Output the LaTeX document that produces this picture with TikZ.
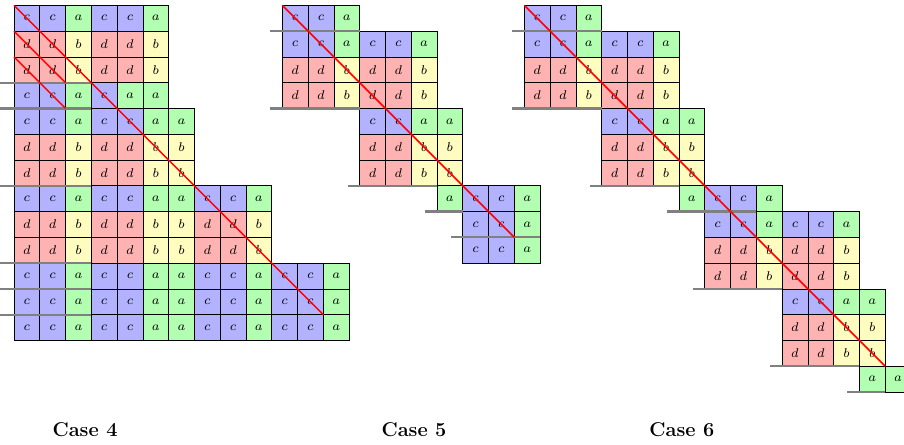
\documentclass[tikz,border=0pt]{standalone}
\usepackage{xcolor}
\colorlet{cola}{green!30}
\colorlet{colb}{yellow!25}
\colorlet{colc}{blue!30}
\colorlet{cold}{red!30}
\tikzset{
  cellbox/.style={draw=black, line width=0.4pt, minimum size=0.5cm, inner sep=0pt, outer sep=0pt, font=\scriptsize},
  sepline/.style={draw=gray, line width=1.2pt},
  diagline/.style={draw=red, line width=0.8pt},
  caption/.style={font=\fontsize{11}{13}\selectfont\bfseries, inner sep=0pt}
}
\newcommand\cellrow[4]{%
  \foreach \L [count=\i from 0] in {#4}{%
    \pgfmathtruncatemacro\cc{#2+\i}%
    \node[cellbox, fill=col\L] (#1-#3-\cc) at (\cc+0.5,#3+0.5) {$\L$};
  }}
\begin{document}
\begin{tikzpicture}[x=0.5cm,y=-0.5cm]
\useasboundingbox (0,0) rectangle (35.066,17.223);
% ---------------- Case 4
\begin{scope}[shift={(0.543,0.206)}]
  \cellrow{A}{0}{0}{c,c,a,c,c,a}
  \cellrow{A}{0}{1}{d,d,b,d,d,b}
  \cellrow{A}{0}{2}{d,d,b,d,d,b}
  \cellrow{A}{0}{3}{c,c,a,c,a,a}
  \cellrow{A}{0}{4}{c,c,a,c,c,a,a}
  \cellrow{A}{0}{5}{d,d,b,d,d,b,b}
  \cellrow{A}{0}{6}{d,d,b,d,d,b,b}
  \cellrow{A}{0}{7}{c,c,a,c,c,a,a,c,c,a}
  \cellrow{A}{0}{8}{d,d,b,d,d,b,b,d,d,b}
  \cellrow{A}{0}{9}{d,d,b,d,d,b,b,d,d,b}
  \cellrow{A}{0}{10}{c,c,a,c,c,a,a,c,c,a,c,c,a}
  \cellrow{A}{0}{11}{c,c,a,c,c,a,a,c,c,a,c,c,a}
  \cellrow{A}{0}{12}{c,c,a,c,c,a,a,c,c,a,c,c,a}
  \foreach \r in {3,4,7,10,11,12}{\draw[sepline] (-0.6,\r) -- (3,\r);}
  \draw[diagline] (A-0-0.north west) -- (A-11-11.south east);
  \draw[diagline] (A-1-0.north west) -- (A-2-1.south east);
  \draw[diagline] (A-2-0.north west) -- (A-3-1.south east);
\end{scope}
% ---------------- Case 5
\begin{scope}[shift={(10.951,0.206)}]
  \cellrow{B}{0}{0}{c,c,a}
  \cellrow{B}{0}{1}{c,c,a,c,c,a}
  \cellrow{B}{0}{2}{d,d,b,d,d,b}
  \cellrow{B}{0}{3}{d,d,b,d,d,b}
  \cellrow{B}{3}{4}{c,c,a,a}
  \cellrow{B}{3}{5}{d,d,b,b}
  \cellrow{B}{3}{6}{d,d,b,b}
  \cellrow{B}{6}{7}{a,c,c,a}
  \cellrow{B}{7}{8}{c,c,a}
  \cellrow{B}{7}{9}{c,c,a}
  \draw[sepline] (-0.47,1) -- (3,1);
  \draw[sepline] (-0.47,4) -- (3,4);
  \draw[sepline] (2.53,7) -- (6,7);
  \draw[sepline] (5.53,8) -- (7,8);
  \draw[sepline] (6.53,9) -- (10,9);
  \draw[diagline] (B-0-0.north west) -- (B-8-8.south east);
\end{scope}
% ---------------- Case 6
\begin{scope}[shift={(20.338,0.206)}]
  \cellrow{C}{0}{0}{c,c,a}
  \cellrow{C}{0}{1}{c,c,a,c,c,a}
  \cellrow{C}{0}{2}{d,d,b,d,d,b}
  \cellrow{C}{0}{3}{d,d,b,d,d,b}
  \cellrow{C}{3}{4}{c,c,a,a}
  \cellrow{C}{3}{5}{d,d,b,b}
  \cellrow{C}{3}{6}{d,d,b,b}
  \cellrow{C}{6}{7}{a,c,c,a}
  \cellrow{C}{7}{8}{c,c,a,c,c,a}
  \cellrow{C}{7}{9}{d,d,b,d,d,b}
  \cellrow{C}{7}{10}{d,d,b,d,d,b}
  \cellrow{C}{10}{11}{c,c,a,a}
  \cellrow{C}{10}{12}{d,d,b,b}
  \cellrow{C}{10}{13}{d,d,b,b}
  \cellrow{C}{13}{14}{a,a}
  \draw[sepline] (-0.47,1) -- (3,1);
  \draw[sepline] (-0.47,4) -- (3,4);
  \draw[sepline] (2.53,7) -- (6,7);
  \draw[sepline] (5.53,8) -- (9,8);
  \draw[sepline] (6.53,11) -- (10,11);
  \draw[sepline] (9.53,14) -- (13,14);
  \draw[sepline] (12.53,15) -- (14,15);
  \draw[diagline] (C-0-0.north west) -- (C-13-13.south east);
\end{scope}
% ---------------- captions
\node[caption] (cap4) at (3.30,16.68) {Case 4};
\node[caption] (cap5) at (16.06,16.68) {Case 5};
\node[caption] (cap6) at (26.45,16.68) {Case 6};
\end{tikzpicture}
\end{document}
